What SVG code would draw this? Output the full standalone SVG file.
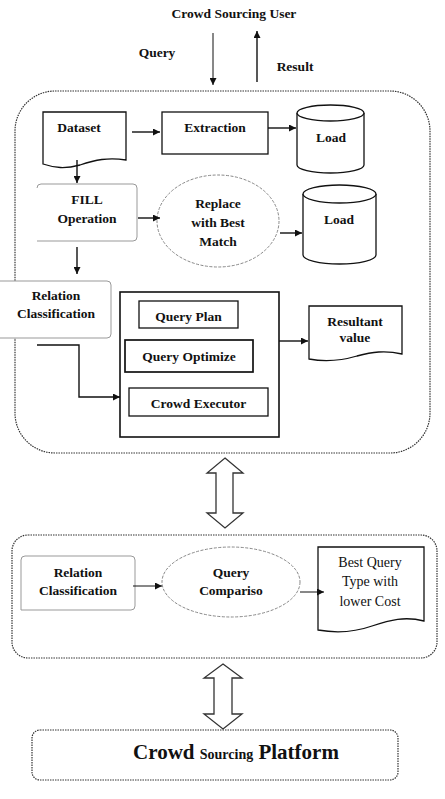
<svg xmlns="http://www.w3.org/2000/svg" width="445" height="799" viewBox="0 0 445 799">
  <style>
    .t { font-family: "Liberation Serif", "Times New Roman", serif; font-weight: bold; font-size: 13.5px; fill: #111; text-anchor: middle; }
    .n { font-family: "Liberation Serif", "Times New Roman", serif; font-size: 14px; fill: #111; text-anchor: middle; }
    .box { fill: #fff; stroke: #111; stroke-width: 1.3; }
    .soft { fill: #fff; stroke: #999; stroke-width: 1; }
    .dot { fill: none; stroke: #333; stroke-width: 1.2; stroke-dasharray: 1.5 1; }
    .ell { fill: #fff; stroke: #888; stroke-width: 1; stroke-dasharray: 3 1.5; }
    .ln { fill: none; stroke: #111; stroke-width: 1.4; }
    .dbl { fill: #fff; stroke: #333; stroke-width: 1.3; }
  </style>
  <defs>
    <marker id="ah" viewBox="0 0 10 10" refX="10" refY="5" markerWidth="7" markerHeight="7" markerUnits="userSpaceOnUse" orient="auto">
      <path d="M0,0 L10,5 L0,10 Z" fill="#111"/>
    </marker>
  </defs>

  <!-- containers -->
  <g id="upper-panel"><rect class="dot" x="15" y="91" width="415" height="362" rx="40"/></g>
  <g id="lower-panel"><rect class="dot" x="12" y="535" width="425" height="123" rx="16"/></g>
  <g id="platform">
    <rect class="dot" x="32" y="730" width="366" height="50" rx="8"/>
    <text x="236" y="759" class="t" style="font-size:21px">Crowd <tspan style="font-size:14px">Sourcing</tspan> Platform</text>
  </g>

  <g id="user"><text x="234" y="18" class="t">Crowd Sourcing User</text></g>
  <g id="query-label"><text x="157" y="57" class="t">Query</text></g>
  <g id="result-label"><text x="295" y="71" class="t">Result</text></g>

  <!-- upper panel nodes -->
  <g id="dataset">
    <path class="box" d="M43,112 H126 V160 C108,157 95,160 80,165 C65,169 55,168 43,164 Z"/>
    <text x="79" y="132" class="t">Dataset</text>
  </g>
  <g id="extraction">
    <rect class="box" x="162" y="112" width="106" height="42"/>
    <text x="215" y="132" class="t">Extraction</text>
  </g>
  <g id="load1">
    <path class="box" d="M297,113 V165 A33.5,8 0 0 0 364,165 V113"/>
    <ellipse class="box" cx="330.5" cy="113" rx="33.5" ry="8"/>
    <text x="331" y="142" class="t">Load</text>
  </g>
  <g id="fill-op">
    <path class="soft" d="M41,184 H133 Q137,184 137,188 V237 Q137,241 133,241 H37"/>
    <path class="soft" d="M37,188 Q37,184 41,184"/>
    <text x="87" y="204" class="t">FILL</text>
    <text x="87" y="223" class="t">Operation</text>
  </g>
  <g id="replace">
    <ellipse class="ell" cx="218" cy="221" rx="61" ry="46"/>
    <text x="218" y="208" class="t">Replace</text>
    <text x="218" y="227" class="t">with Best</text>
    <text x="218" y="246" class="t">Match</text>
  </g>
  <g id="load2">
    <path class="box" d="M303,194 V255 A36.5,9 0 0 0 376,255 V194"/>
    <ellipse class="box" cx="339.5" cy="194" rx="36.5" ry="9"/>
    <text x="339" y="224" class="t">Load</text>
  </g>
  <g id="relation1">
    <path class="soft" d="M0,281 H107 Q111,281 111,285 V334 Q111,338 107,338 H0"/>
    <text x="56" y="300" class="t">Relation</text>
    <text x="56" y="318" class="t">Classification</text>
  </g>
  <g id="executor-group">
    <rect class="box" x="120" y="292" width="159" height="145" style="stroke-width:1.6"/>
    <rect class="box" x="139" y="301" width="99" height="27"/>
    <text x="188.5" y="321" class="t">Query Plan</text>
    <rect class="box" x="125" y="340" width="128" height="32" style="stroke-width:1.7"/>
    <text x="189" y="361" class="t">Query Optimize</text>
    <rect class="box" x="129" y="388" width="139" height="28"/>
    <text x="198.5" y="408" class="t">Crowd Executor</text>
  </g>
  <g id="resultant">
    <path class="box" d="M309,306 H402 V354 C385,350 372,352 357,356 C340,361 325,362 309,359 Z"/>
    <text x="355" y="326" class="t">Resultant</text>
    <text x="355" y="342" class="t">value</text>
  </g>

  <!-- lower panel nodes -->
  <g id="relation2">
    <path class="soft" d="M21,610 V560 Q21,556 25,556 H131 Q135,556 135,560 V606 Q135,610 131,610 H21"/>
    <text x="78" y="577" class="t">Relation</text>
    <text x="78" y="595" class="t">Classification</text>
  </g>
  <g id="comparison">
    <ellipse class="ell" cx="231" cy="582" rx="69" ry="35"/>
    <text x="231" y="577" class="t">Query</text>
    <text x="231" y="595" class="t">Compariso</text>
  </g>
  <g id="best-query">
    <path class="box" d="M318,547 H424 V621 C405,616 390,620 372,626 C355,632 335,633 318,630 Z"/>
    <text x="370" y="567" class="n">Best Query</text>
    <text x="370" y="586" class="n">Type with</text>
    <text x="370" y="606" class="n">lower Cost</text>
  </g>

  <!-- connectors -->
  <g id="connectors">
    <line class="ln" x1="213" y1="33" x2="213" y2="85" style="stroke-width:1" marker-end="url(#ah)"/>
    <line class="ln" x1="257" y1="82" x2="257" y2="31" marker-end="url(#ah)"/>
    <line class="ln" x1="132" y1="132" x2="160" y2="132" marker-end="url(#ah)"/>
    <line class="ln" x1="268" y1="128" x2="296" y2="128" marker-end="url(#ah)"/>
    <line class="ln" x1="77" y1="160" x2="77" y2="183" marker-end="url(#ah)"/>
    <line class="ln" x1="138" y1="218" x2="160" y2="218" marker-end="url(#ah)"/>
    <line class="ln" x1="280" y1="233" x2="302" y2="233" marker-end="url(#ah)"/>
    <line class="ln" x1="77" y1="247" x2="77" y2="274" marker-end="url(#ah)"/>
    <polyline class="ln" points="37,345 79,345 79,397 120,397" marker-end="url(#ah)"/>
    <line class="ln" x1="279" y1="341" x2="308" y2="341" marker-end="url(#ah)"/>
    <line class="ln" x1="133" y1="586" x2="162" y2="586" style="stroke-width:1" marker-end="url(#ah)"/>
    <line class="ln" x1="300" y1="592" x2="324" y2="592" style="stroke-width:1" marker-end="url(#ah)"/>
    <path class="dbl" d="M225,458 L243,473 H233 V513 H243 L225,528 L207,513 H216 V473 H207 Z"/>
    <path class="dbl" d="M223,664 L242,678 H232 V714 H242 L223,729 L204,714 H214 V678 H204 Z"/>
  </g>
</svg>
